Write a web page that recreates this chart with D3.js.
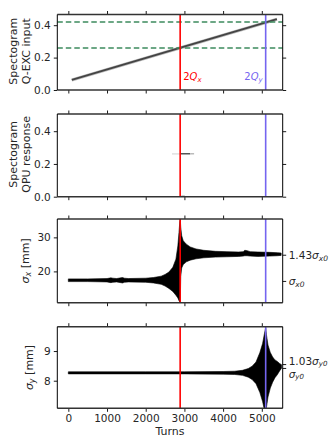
<!DOCTYPE html>
<html><head><meta charset="utf-8">
<script src="https://cdn.jsdelivr.net/npm/d3@7"></script>
<style>body{margin:0;background:#fff}svg{display:block}text{font-family:"DejaVu Sans",sans-serif}</style>
</head><body><svg id="c" width="329" height="438"></svg>
<script>
// ---- data ----
const xTicks = [0, 1000, 2000, 3000, 4000, 5000];
const turns2Qx = 2890;
const turns2Qy = 5100;
const resonanceTunes = [0.26, 0.42];
// panel 1: excitation tune sweep
const excTurns = [90, 5390];
const excTune = [0.062, 0.437];
const p1Ticks = [0.0, 0.2, 0.4];
// panel 2: QPU response spectrogram traces
const respFaintTurns = [2680, 2900];
const respFaintTune = [0.262, 0.262];
const respTurns = [2900, 3150];
const respTune = [0.262, 0.262];
const respTailTurns = [3150, 3250];
const respTailTune = [0.262, 0.262];
const respZeroTurns = [2920, 3010];
const respZeroTune = [0.0, 0.0];
const p2Ticks = [0.0, 0.2, 0.4];
// panel 3: sigma_x envelope
const sxTurns = [0, 500, 1000, 1100, 1150, 1250, 1400, 1450, 1550, 2000, 2200, 2400, 2500, 2600, 2700, 2780, 2830, 2860, 2880, 2893, 2905, 2930, 2970, 3050, 3150, 3300, 3500, 3800, 4100, 4400, 4520, 4560, 4620, 4700, 4900, 5200, 5400, 5500];
const sxUpper = [17.8, 17.8, 17.9, 18.1, 18.0, 17.9, 18.2, 18.0, 17.9, 18.0, 18.2, 18.6, 19.1, 19.8, 21.2, 23.6, 27.5, 31.5, 34.5, 35.4, 33.0, 30.5, 29.0, 28.0, 27.2, 26.6, 26.2, 25.9, 25.8, 25.7, 25.8, 26.2, 26.1, 25.8, 25.7, 25.6, 25.5, 25.4];
const sxLower = [17.0, 17.0, 16.9, 16.7, 16.8, 16.9, 16.6, 16.8, 16.9, 16.8, 16.6, 16.2, 15.7, 15.0, 14.1, 13.0, 12.2, 11.4, 11.0, 11.0, 18.5, 21.0, 22.0, 22.8, 23.3, 23.7, 24.0, 24.2, 24.3, 24.4, 24.5, 24.6, 24.6, 24.5, 24.4, 24.5, 24.6, 24.7];
const p3Ticks = [20, 30];
const sigmaX0 = 17.2;
const sigmaX1 = 24.9;
// panel 4: sigma_y envelope
const syTurns = [0, 1000, 2000, 3000, 4000, 4300, 4500, 4650, 4750, 4850, 4950, 5020, 5070, 5100, 5120, 5160, 5220, 5280, 5340, 5400, 5460, 5510];
const syUpper = [8.30, 8.30, 8.30, 8.30, 8.31, 8.32, 8.35, 8.41, 8.49, 8.63, 8.95, 9.25, 9.60, 9.78, 9.55, 9.20, 8.95, 8.80, 8.70, 8.65, 8.58, 8.54];
const syLower = [8.23, 8.23, 8.23, 8.23, 8.22, 8.21, 8.18, 8.12, 8.04, 7.90, 7.60, 7.30, 7.00, 6.95, 7.10, 7.45, 7.75, 7.95, 8.10, 8.20, 8.33, 8.42];
const p4Ticks = [8, 9];
const sigmaY0 = 8.43;
const sigmaY1 = 8.56;

// ---- layout ----
const svg = d3.select("#c");
const L = 57.3, R = 282.7;
const x = d3.scaleLinear().domain([-285, 5540]).range([L, R]);
const panels = [
  {top: 14.5, bot: 90, dom: [0, 0.466]},
  {top: 114, bot: 196.7, dom: [0, 0.505]},
  {top: 219, bot: 302.7, dom: [10.8, 35.4]},
  {top: 326.7, bot: 408.3, dom: [7.07, 9.82]}
];
panels.forEach(p => p.y = d3.scaleLinear().domain(p.dom).range([p.bot, p.top]));
const FS = 10.5, TXT = "#262626";
const RED = "#ff0000", BLUE = "#7565f0";

const defs = svg.append("defs");
panels.forEach((p, i) => {
  defs.append("clipPath").attr("id", "cl" + i)
    .append("rect").attr("x", L).attr("y", p.top).attr("width", R - L).attr("height", p.bot - p.top);
  p.g = svg.append("g");
  p.plot = p.g.append("g").attr("clip-path", `url(#cl${i})`);
});

function axes(p, yTicks, showX, rightTicks) {
  const g = p.g;
  const ay = g.append("g").attr("transform", `translate(${L},0)`)
    .call(d3.axisLeft(p.y).tickValues(yTicks).tickSize(3.5).tickPadding(3)
      .tickFormat(p.dom[1] < 1 ? d3.format(".1f") : d3.format("d")));
  ay.select(".domain").remove();
  ay.selectAll("text").attr("font-size", FS).attr("fill", TXT).style("font-family","DejaVu Sans");
  ay.selectAll("line").attr("stroke", "#000").attr("stroke-width", 0.9);
  const ax = g.append("g").attr("transform", `translate(0,${p.bot})`)
    .call(d3.axisBottom(x).tickValues(xTicks).tickSize(3.5).tickPadding(3).tickFormat(showX ? d3.format("d") : ""));
  ax.select(".domain").remove();
  ax.selectAll("text").attr("font-size", FS).attr("fill", TXT).style("font-family","DejaVu Sans");
  ax.selectAll("line").attr("stroke", "#000").attr("stroke-width", 0.9);
  const at = g.append("g").attr("transform", `translate(0,${p.top})`)
    .call(d3.axisTop(x).tickValues(xTicks).tickSize(3.5).tickFormat(""));
  at.select(".domain").remove();
  at.selectAll("line").attr("stroke", "#000").attr("stroke-width", 0.9);
  if (rightTicks) {
    const ar = g.append("g").attr("transform", `translate(${R},0)`)
      .call(d3.axisRight(p.y).tickValues(rightTicks).tickSize(3.5).tickFormat(""));
    ar.select(".domain").remove();
    ar.selectAll("line").attr("stroke", "#000").attr("stroke-width", 0.9);
  }
  g.append("line").attr("x1", L).attr("x2", R).attr("y1", p.top).attr("y2", p.top).attr("stroke", "#333").attr("stroke-width", 1.4);
  g.append("line").attr("x1", L).attr("x2", R).attr("y1", p.bot).attr("y2", p.bot).attr("stroke", "#333").attr("stroke-width", 1.4);
  g.append("line").attr("x1", L).attr("x2", L).attr("y1", p.top).attr("y2", p.bot).attr("stroke", "#000").attr("stroke-width", 1);
  g.append("line").attr("x1", R).attr("x2", R).attr("y1", p.top).attr("y2", p.bot).attr("stroke", "#000").attr("stroke-width", 1);
}

function vlines(p) {
  p.plot.append("line").attr("x1", x(turns2Qx)).attr("x2", x(turns2Qx)).attr("y1", p.top).attr("y2", p.bot)
    .attr("stroke", RED).attr("stroke-width", 1.6);
  p.plot.append("line").attr("x1", x(turns2Qy)).attr("x2", x(turns2Qy)).attr("y1", p.top).attr("y2", p.bot)
    .attr("stroke", BLUE).attr("stroke-width", 1.6);
}

function ylab(lines, cx, cy) {
  const t = svg.append("text").attr("transform", `translate(${cx},${cy}) rotate(-90)`)
    .attr("text-anchor", "middle").attr("font-size", 11).attr("fill", TXT);
  lines.forEach((s, i) => t.append("tspan").attr("x", 0).attr("dy", i === 0 ? 0 : 13).text(s));
  return t;
}

// ---- panel 1 ----
{
  const p = panels[0];
  const ln = d3.line().x((d, i) => x(excTurns[i])).y(d => p.y(d));
  p.plot.append("path").attr("d", ln(excTune)).attr("fill", "none").attr("stroke", "#bbb").attr("stroke-width", 3.2);
  p.plot.append("path").attr("d", ln(excTune)).attr("fill", "none").attr("stroke", "#444").attr("stroke-width", 1.8);
  resonanceTunes.forEach(v => p.plot.append("line").attr("x1", L).attr("x2", R).attr("y1", p.y(v)).attr("y2", p.y(v))
    .attr("stroke", "#3d8a5e").attr("stroke-width", 1.5).attr("stroke-dasharray", "5.5,3"));
  vlines(p);
  axes(p, p1Ticks, false, p1Ticks);
  const t1 = p.g.append("text").attr("x", x(turns2Qx) + 3).attr("y", 80).attr("font-size", 10).attr("fill", RED);
  t1.append("tspan").text("2");
  t1.append("tspan").attr("font-style", "italic").text("Q");
  t1.append("tspan").attr("font-style", "italic").attr("font-size", 7).attr("dy", 2).text("x");
  const t2 = p.g.append("text").attr("x", x(turns2Qy) - 3).attr("y", 80).attr("font-size", 10).attr("fill", BLUE).attr("text-anchor", "end");
  t2.append("tspan").text("2");
  t2.append("tspan").attr("font-style", "italic").text("Q");
  t2.append("tspan").attr("font-style", "italic").attr("font-size", 7).attr("dy", 2).text("y");
  ylab(["Spectogram", "Q-EXC input"], 16.5, (p.top + p.bot) / 2 - 1);
}
// ---- panel 2 ----
{
  const p = panels[1];
  const ln = (tt) => d3.line().x((d, i) => x(tt[i])).y(d => p.y(d));
  p.plot.append("path").attr("d", ln(respFaintTurns)(respFaintTune)).attr("stroke", "#e4e4e4").attr("stroke-width", 1.8).attr("fill", "none");
  p.plot.append("path").attr("d", ln(respTurns)(respTune)).attr("stroke", "#555").attr("stroke-width", 1.6).attr("fill", "none");
  p.plot.append("path").attr("d", ln(respTailTurns)(respTailTune)).attr("stroke", "#bbb").attr("stroke-width", 1.4).attr("fill", "none");
  p.plot.append("path").attr("d", ln(respZeroTurns)(respZeroTune)).attr("stroke", "#444").attr("stroke-width", 2).attr("fill", "none");
  vlines(p);
  axes(p, p2Ticks, false, p2Ticks);
  ylab(["Spectogram", "QPU response"], 16.5, (p.top + p.bot) / 2 - 1);
}
// ---- panel 3 ----
{
  const p = panels[2];
  const area = d3.area().x((d, i) => x(sxTurns[i])).y0((d, i) => p.y(sxLower[i])).y1(d => p.y(d));
  p.plot.append("path").attr("d", area(sxUpper)).attr("fill", "#000").attr("stroke", "#000").attr("stroke-width", 0.6);
  vlines(p);
  axes(p, p3Ticks, false, [sigmaX1, sigmaX0]);
  const yl = svg.append("text").attr("transform", `translate(${29},${(p.top + p.bot) / 2}) rotate(-90)`)
    .attr("text-anchor", "middle").attr("font-size", 11).attr("fill", TXT);
  yl.append("tspan").attr("font-style", "italic").text("σ");
  yl.append("tspan").attr("font-style", "italic").attr("font-size", 8).attr("dy", 2).text("x");
  yl.append("tspan").attr("dy", -2).text(" [mm]");
  const r1 = p.g.append("text").attr("x", R + 6).attr("y", p.y(sigmaX1) + 4).attr("font-size", FS).attr("fill", TXT);
  r1.append("tspan").text("1.43");
  r1.append("tspan").attr("font-style", "italic").text("σ");
  r1.append("tspan").attr("font-style", "italic").attr("font-size", 7.5).attr("dy", 2).text("x0");
  const r0 = p.g.append("text").attr("x", R + 6).attr("y", p.y(sigmaX0) + 4).attr("font-size", FS).attr("fill", TXT);
  r0.append("tspan").attr("font-style", "italic").text("σ");
  r0.append("tspan").attr("font-style", "italic").attr("font-size", 7.5).attr("dy", 2).text("x0");
}
// ---- panel 4 ----
{
  const p = panels[3];
  const area = d3.area().x((d, i) => x(syTurns[i])).y0((d, i) => p.y(syLower[i])).y1(d => p.y(d));
  p.plot.append("path").attr("d", area(syUpper)).attr("fill", "#000").attr("stroke", "#000").attr("stroke-width", 0.6);
  vlines(p);
  axes(p, p4Ticks, true, [sigmaY1, sigmaY0]);
  const yl = svg.append("text").attr("transform", `translate(${33},${(p.top + p.bot) / 2}) rotate(-90)`)
    .attr("text-anchor", "middle").attr("font-size", 11).attr("fill", TXT);
  yl.append("tspan").attr("font-style", "italic").text("σ");
  yl.append("tspan").attr("font-style", "italic").attr("font-size", 8).attr("dy", 2).text("y");
  yl.append("tspan").attr("dy", -2).text(" [mm]");
  const r1 = p.g.append("text").attr("x", R + 6).attr("y", p.y(sigmaY1) + 0.5).attr("font-size", FS).attr("fill", TXT);
  r1.append("tspan").text("1.03");
  r1.append("tspan").attr("font-style", "italic").text("σ");
  r1.append("tspan").attr("font-style", "italic").attr("font-size", 7).attr("dy", 1.5).text("y0");
  const r0 = p.g.append("text").attr("x", R + 6).attr("y", p.y(sigmaY0) + 10.5).attr("font-size", FS).attr("fill", TXT);
  r0.append("tspan").attr("font-style", "italic").text("σ");
  r0.append("tspan").attr("font-style", "italic").attr("font-size", 7).attr("dy", 1).text("y0");
  svg.append("text").attr("x", (L + R) / 2).attr("y", 435).attr("text-anchor", "middle").attr("font-size", 11).attr("fill", TXT).text("Turns");
}
</script></body></html>
